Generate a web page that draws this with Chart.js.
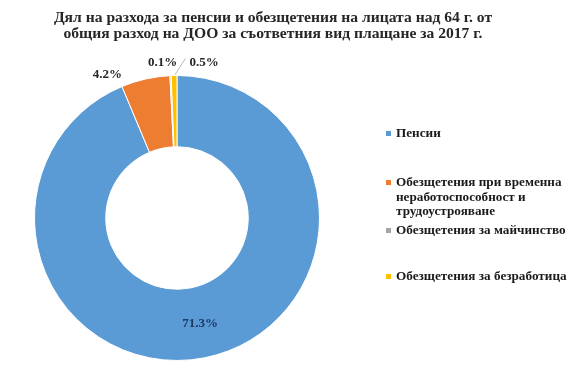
<!DOCTYPE html>
<html lang="bg">
<head>
    <meta charset="UTF-8">
    <title>Дял на разхода за пенсии и обезщетения</title>
    <script src="https://cdn.jsdelivr.net/npm/chart.js"></script>
    <style>
        body {
            margin: 0;
            background: #fff;
            font-family: "Liberation Serif", "Times New Roman", serif;
        }
        .wrap {
            position: relative;
            width: 582px;
            height: 375px;
            overflow: hidden;
        }
        #chart {
            position: absolute;
            left: 0;
            top: 0;
        }
        .title {
            position: absolute;
            left: 0;
            top: 9px;
            width: 546px;
            text-align: center;
            font-weight: bold;
            font-size: 15.6px;
            line-height: 16px;
            color: #262626;
        }
        .legend-item {
            position: absolute;
            left: 386px;
            width: 196px;
            font-weight: bold;
            font-size: 13.2px;
            line-height: 14.7px;
            color: #1a1a1a;
        }
        .legend-item .box {
            position: absolute;
            left: 0;
            top: 5px;
            width: 5px;
            height: 5px;
        }
        .legend-item .text {
            margin-left: 10px;
        }
    </style>
</head>
<body>

    <div class="wrap">
        <canvas id="chart" width="582" height="375"></canvas>
        <div class="title">Дял на разхода за пенсии и обезщетения на лицата над 64 г. от<br>общия разход на ДОО за съответния вид плащане за 2017 г.</div>
        <div id="legend"></div>
    </div>

    <script>
        // data
        const labels = [
            "Пенсии",
            "Обезщетения при временна неработоспособност и трудоустрояване",
            "Обезщетения за майчинство",
            "Обезщетения за безработица"
        ];
        const values = [71.3, 4.2, 0.1, 0.5];
        const colors = ["#5B9BD5", "#ED7D31", "#A5A5A5", "#FFC000"];

        // layout bits
        const legendTops = [126, 175, 223, 269];
        // label offset from the outer edge of each slice (null = inside the ring)
        const labelOffsets = [null, [-38, -4], [-8, -13], [30, -13]];
        const leaderLines = [false, false, false, true];

        // HTML legend
        const legendEl = document.getElementById("legend");
        labels.forEach((lab, i) => {
            const item = document.createElement("div");
            item.className = "legend-item";
            item.style.top = legendTops[i] + "px";
            item.innerHTML = '<span class="box" style="background:' + colors[i] + '"></span><div class="text">' + lab + '</div>';
            legendEl.appendChild(item);
        });

        // data labels drawn next to each arc
        const sliceLabels = {
            id: "sliceLabels",
            afterDatasetsDraw(chart) {
                const ctx = chart.ctx;
                const arcs = chart.getDatasetMeta(0).data;
                ctx.save();
                ctx.font = "bold 13px 'Liberation Serif', 'Times New Roman', serif";
                ctx.textAlign = "center";
                ctx.textBaseline = "middle";
                arcs.forEach((arc, i) => {
                    const text = values[i].toFixed(1) + "%";
                    const p = arc.getProps(["x", "y", "startAngle", "endAngle", "outerRadius"], true);
                    const mid = (p.startAngle + p.endAngle) / 2;
                    if (labelOffsets[i] === null) {
                        const pos = arc.tooltipPosition(true);
                        ctx.fillStyle = "#1F3864";
                        ctx.fillText(text, pos.x + 2, pos.y + 1);
                        return;
                    }
                    const ox = p.x + Math.cos(mid) * p.outerRadius;
                    const oy = p.y + Math.sin(mid) * p.outerRadius;
                    const lx = ox + labelOffsets[i][0];
                    const ly = oy + labelOffsets[i][1];
                    if (leaderLines[i]) {
                        const w = ctx.measureText(text).width;
                        ctx.strokeStyle = "#A6A6A6";
                        ctx.lineWidth = 0.8;
                        ctx.beginPath();
                        ctx.moveTo(ox + 1, oy - 1);
                        ctx.lineTo(lx - w / 2 - 4, ly - 4);
                        ctx.stroke();
                    }
                    ctx.fillStyle = "#262626";
                    ctx.fillText(text, lx, ly);
                });
                ctx.restore();
            }
        };

        const ctx = document.getElementById("chart").getContext("2d");
        new Chart(ctx, {
            type: "doughnut",
            data: {
                labels: labels,
                datasets: [{
                    data: values,
                    backgroundColor: colors,
                    borderColor: "#ffffff",
                    borderWidth: 1
                }]
            },
            options: {
                responsive: false,
                animation: false,
                cutout: "50%",
                layout: {
                    padding: { left: 34, top: 75, right: 262, bottom: 14 }
                },
                plugins: {
                    legend: { display: false },
                    title: { display: false },
                    tooltip: { enabled: false }
                }
            },
            plugins: [sliceLabels]
        });
    </script>

</body>
</html>
